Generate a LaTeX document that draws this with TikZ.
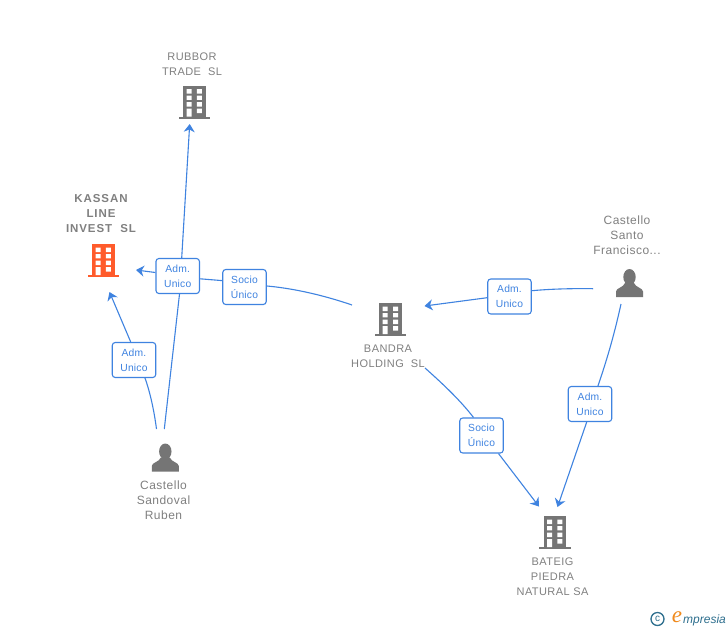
\documentclass[tikz,border=0pt]{standalone}
\usepackage{fontspec}
\setmainfont{Liberation Sans}
\newfontfamily\spaced[LetterSpace=4]{Liberation Sans}
\newfontfamily\spacedless[LetterSpace=2]{Liberation Sans}
\newfontfamily\spacedwide[LetterSpace=8]{Liberation Sans}
\newfontfamily\logofont{Liberation Serif}
\usetikzlibrary{arrows.meta}
\definecolor{linkblue}{HTML}{3F83E0}
\definecolor{txtgray}{HTML}{808080}
\definecolor{icongray}{HTML}{757575}
\definecolor{iconred}{HTML}{FF5B2B}
\definecolor{logoteal}{HTML}{2E6F8E}
\definecolor{logoorange}{HTML}{F08A1D}
\tikzset{
  x=1pt,y=-1pt,
  linkbox/.style={draw=linkblue,line width=1.1pt,rounded corners=3pt,fill=white,text=linkblue,
    minimum width=43.5pt,minimum height=35pt,inner sep=0pt,align=center,
    font=\fontsize{10.3}{15}\selectfont\spacedless},
  conn/.style={draw=linkblue,line width=1.1pt},
  tip/.style={conn,-{Stealth[length=8pt,width=11pt,inset=2.5pt]}},
  caption/.style={text=txtgray,align=center,inner sep=0pt,font=\fontsize{11}{15}\selectfont\spaced},
  captionp/.style={text=txtgray,align=center,inner sep=0pt,font=\fontsize{12}{15}\selectfont\spaced},
  captionb/.style={text=txtgray,align=center,inner sep=0pt,font=\fontsize{11.5}{15}\selectfont\bfseries\spacedwide},
  building/.pic={
    \fill[pic actions] (-11.3,-16) rectangle (11.3,16);
    \fill[pic actions] (-15.8,15) rectangle (15.8,17);
    \fill[white] (-7.8,-12.4) rectangle (-2.8,-8) (2.6,-12.4) rectangle (7.6,-8)
      (-7.8,-6) rectangle (-2.8,-1.6) (2.6,-6) rectangle (7.6,-1.6)
      (-7.8,0.6) rectangle (-2.8,5) (2.6,0.6) rectangle (7.6,5)
      (-7.8,7.2) rectangle (-2.8,15) (2.6,7.2) rectangle (7.6,11.6);
  },
  person/.pic={
    \fill[pic actions] (0,-6) ellipse (6.2 and 8);
    \fill[pic actions] (-13.5,14) -- (-13.5,8.5) .. controls (-13.5,5) and (-6,4.5) .. (-4.5,0)
      -- (4.5,0) .. controls (6,4.5) and (13.5,5) .. (13.5,8.5) -- (13.5,14) -- cycle;
  }
}
\begin{document}
\begin{tikzpicture}
\useasboundingbox[fill=white] (0,0) rectangle (728,630);
% icons
\pic[fill=icongray] at (194.3,101.5) {building};
\pic[fill=iconred] at (103.3,260) {building};
\pic[fill=icongray] at (390.5,319) {building};
\pic[fill=icongray] at (554.8,532) {building};
\pic[fill=icongray] at (629.5,283) {person};
\pic[fill=icongray] at (165.3,457.5) {person};
% captions
\node[caption] (rubber) at (192,64) {RUBBOR\\TRADE\ \ SL};
\node[captionb] (kassan) at (101,213.7) {KASSAN\\LINE\\INVEST\ \ SL};
\node[captionp] (santo) at (627,235.5) {Castello\\Santo\\Francisco...};
\node[caption] (bandra) at (388,356) {BANDRA\\HOLDING\ \ SL};
\node[captionp] (sandoval) at (163.5,500.5) {Castello\\Sandoval\\Ruben};
\node[caption] (bateig) at (552.5,576.5) {BATEIG\\PIEDRA\\NATURAL SA};
% relation labels
\node[linkbox] (admTop) at (177.7,276) {Adm.\\Unico};
\node[linkbox] (socioLeft) at (244.5,287) {Socio\\Único};
\node[linkbox] (admLow) at (134,360) {Adm.\\Unico};
\node[linkbox] (admRight) at (509.5,296.5) {Adm.\\Unico};
\node[linkbox] (admBottom) at (590,404) {Adm.\\Unico};
\node[linkbox] (socioBottom) at (481.5,435.5) {Socio\\Único};
% connector ends
\coordinate (rubberIn) at (189.7,124);
\coordinate (kassanInA) at (136,270);
\coordinate (kassanInB) at (109.5,292);
\coordinate (bandraIn) at (424.5,306);
\coordinate (bateigInA) at (539,506.5);
\coordinate (bateigInB) at (557.5,507);
\coordinate (bandraOutA) at (352,305);
\coordinate (bandraOutB) at (425,368);
\coordinate (santoOutA) at (593,288.7);
\coordinate (santoOutB) at (621,304);
\coordinate (sandovalOutA) at (156.5,429);
\coordinate (sandovalOutB) at (164.3,429);
% connectors
\draw[conn] (santoOutA) .. controls (565,288.3) and (545,289.5) .. ([yshift=5.8pt]admRight.east);
\draw[tip] ([yshift=-1.2pt]admRight.west) -- (bandraIn);
\draw[conn] (santoOutB) .. controls (613,340) and (606,362) .. ([xshift=8pt]admBottom.north);
\draw[tip] ([xshift=-3.3pt]admBottom.south) -- (bateigInB);
\draw[conn] (bandraOutB) .. controls (443,384) and (460,400) .. ([xshift=-8pt]socioBottom.north);
\draw[tip] ([xshift=17pt]socioBottom.south) -- (bateigInA);
\draw[conn] (bandraOutA) .. controls (320,294) and (290,288) .. ([yshift=1pt]socioLeft.east);
\draw[conn] ([yshift=6.4pt]socioLeft.west) -- ([yshift=-2.8pt]admTop.east);
\draw[tip] ([yshift=3.5pt]admTop.west) -- (kassanInA);
\draw[conn] (sandovalOutA) .. controls (154,410) and (150,392) .. ([xshift=11pt]admLow.south);
\draw[tip] ([xshift=-3.3pt]admLow.north) -- (kassanInB);
\draw[conn] (sandovalOutB) -- ([xshift=1.8pt]admTop.south);
\draw[tip] ([xshift=4pt]admTop.north) -- (rubberIn);
% logo
\node[draw=logoteal,circle,line width=1.3pt,minimum size=13pt,inner sep=0pt,text=logoteal,font=\fontsize{10}{10}\selectfont] (copy) at (657.5,619) {c};
\node[text=logoorange,inner sep=0pt,font=\fontsize{23}{23}\selectfont\logofont\itshape] (logoE) at (677,617) {e};
\node[text=logoteal,inner sep=0pt,anchor=west,font=\fontsize{12}{12}\selectfont\itshape] (logoText) at (683,620) {mpresia};
\end{tikzpicture}
\end{document}
